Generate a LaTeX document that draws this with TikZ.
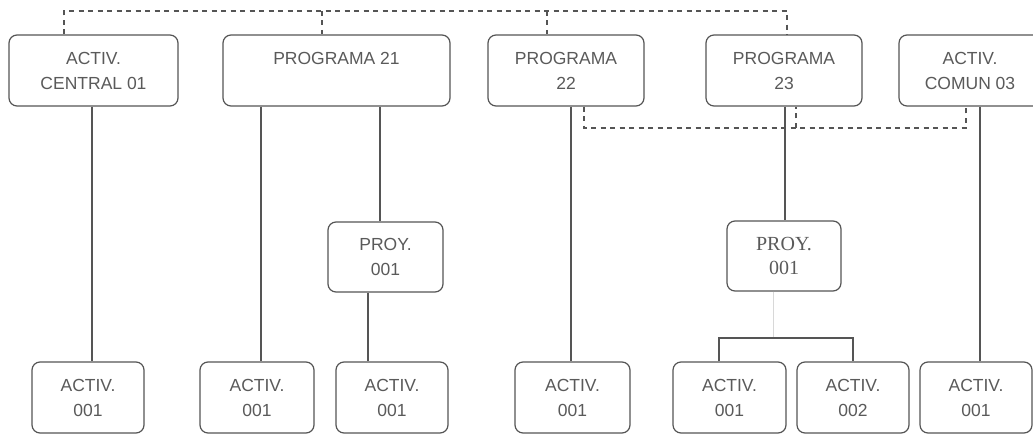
\documentclass[tikz,border=0pt]{standalone}
\usepackage{fontspec}
\setmainfont{Liberation Sans}
\newfontfamily\serifproy{Liberation Serif}
\definecolor{boxgray}{HTML}{555555}
\definecolor{txtgray}{HTML}{5A5A5A}
\definecolor{faintgray}{HTML}{D8D8D8}
\begin{document}
\begin{tikzpicture}[x=1pt,y=-1pt,
  box/.style={draw=boxgray, line width=1.2pt, rounded corners=8pt, inner sep=0pt,
    align=center, text=txtgray, font=\fontsize{17.5}{25}\selectfont},
  topbox/.style={box, minimum height=71pt},
  botbox/.style={box, minimum height=71pt, minimum width=113pt},
  conn/.style={draw=boxgray, line width=1.2pt},
  faintline/.style={draw=faintgray, line width=1pt},
  dashline/.style={draw=boxgray, line width=1.1pt, dash pattern=on 5pt off 4.5pt}]
\useasboundingbox (0,0) rectangle (1033,435);
\fill[white] (0,0) rectangle (1033,435);

% top row
\node[topbox, minimum width=169pt] (c1) at (93.5,70.5) {ACTIV.\\CENTRAL 01};
\node[topbox, minimum width=227pt] (p21) at (336.5,70.5) {PROGRAMA 21\\\phantom{2}};
\node[topbox, minimum width=156pt] (p22) at (566,70.5) {PROGRAMA\\22};
\node[topbox, minimum width=156pt] (p23) at (784,70.5) {PROGRAMA\\23};
\node[topbox, minimum width=142pt] (com) at (970,70.5) {ACTIV.\\COMUN 03};

% middle row
\node[box, minimum width=115pt, minimum height=70pt] (proyL) at (385.5,257) {PROY.\\001};
\node[box, minimum width=114pt, minimum height=70pt, font=\serifproy\fontsize{20}{24}\selectfont] (proyR) at (784,256) {PROY.\\001};

% bottom row
\node[botbox, minimum width=112pt] (b1) at (88,397.5) {ACTIV.\\001};
\node[botbox, minimum width=114pt] (b2) at (257,397.5) {ACTIV.\\001};
\node[botbox, minimum width=112pt] (b3) at (392,397.5) {ACTIV.\\001};
\node[botbox, minimum width=115pt] (b4) at (572.5,397.5) {ACTIV.\\001};
\node[botbox, minimum width=113pt] (b5) at (729.5,397.5) {ACTIV.\\001};
\node[botbox, minimum width=112pt] (b6) at (853,397.5) {ACTIV.\\002};
\node[botbox, minimum width=112pt] (b7) at (976,397.5) {ACTIV.\\001};

% x positions of the solid connectors
\coordinate (vA) at (92,0);
\coordinate (vB) at (261,0);
\coordinate (vC) at (380,0);
\coordinate (vD) at (368,0);
\coordinate (vE) at (571,0);
\coordinate (vF) at (785,0);
\coordinate (vG) at (980,0);

\draw[conn] (c1.south -| vA) -- (b1.north -| vA);
\draw[conn] (p21.south -| vB) -- (b2.north -| vB);
\draw[conn] (p21.south -| vC) -- (proyL.north -| vC);
\draw[conn] (proyL.south -| vD) -- (b3.north -| vD);
\draw[conn] (p22.south -| vE) -- (b4.north -| vE);
\draw[conn] (p23.south -| vF) -- (proyR.north -| vF);
\draw[conn] (com.south -| vG) -- (b7.north -| vG);

% bracket under right project
\coordinate (kL) at (719,338);
\coordinate (kM) at (773,338);
\coordinate (kR) at (853,338);
\draw[faintline] (proyR.south -| kM) -- (kM);
\draw[conn] (b5.north -| kL) -- (kL) -- (kR) -- (b6.north -| kR);

% top dashed link
\coordinate (dA) at (64,11);
\coordinate (dB) at (322,11);
\coordinate (dC) at (547,11);
\coordinate (dD) at (787,11);
\draw[dashline] (c1.north -| dA) -- (dA) -- (dD) -- (p23.north -| dD);
\draw[dashline] (dB) -- (p21.north -| dB);
\draw[dashline] (dC) -- (p22.north -| dC);

% lower dashed link
\coordinate (eA) at (584,128);
\coordinate (eB) at (796,128);
\coordinate (eC) at (966,128);
\draw[dashline] (p22.south -| eA) -- (eA) -- (eC) -- (com.south -| eC);
\draw[dashline] (eB) -- (p23.south -| eB);
\end{tikzpicture}
\end{document}
